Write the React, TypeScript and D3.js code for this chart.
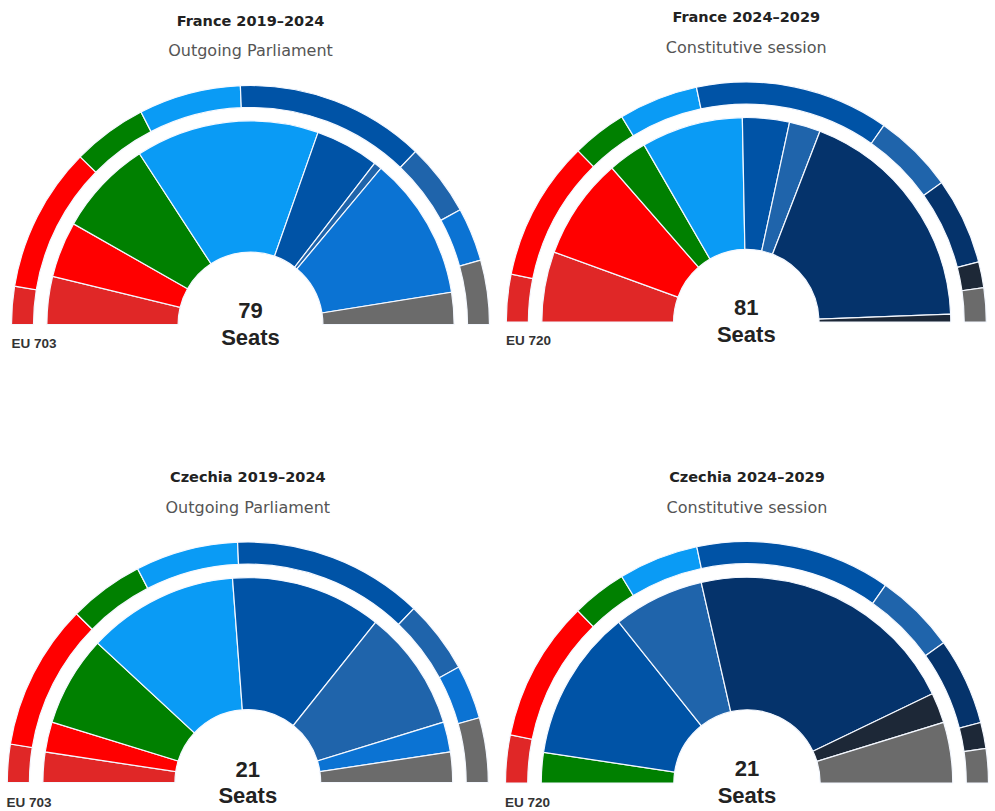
import { useEffect, useRef } from "react";
import * as d3 from "d3";

// political groups, left to right
const groups2019 = ["The Left", "S&D", "Greens/EFA", "Renew", "EPP", "ECR", "ID", "NI"];
const colors2019 = ["#e02727", "#ff0000", "#008000", "#0a9bf5", "#0053a6", "#1f64ab", "#0b73d3", "#6b6b6b"];
const eu2019 = [36, 138, 71, 97, 180, 69, 51, 61];
const france2019 = [6, 7, 12, 23, 8, 1, 18, 4];
const czechia2019 = [1, 1, 3, 5, 5, 4, 1, 1];

const groups2024 = ["The Left", "S&D", "Greens/EFA", "Renew", "EPP", "ECR", "PfE", "ESN", "NI"];
const colors2024 = ["#e02727", "#ff0000", "#008000", "#0a9bf5", "#0053a6", "#1f64ab", "#05336b", "#1d2837", "#6b6b6b"];
const eu2024 = [46, 136, 53, 77, 188, 78, 84, 25, 33];
const france2024 = [9, 13, 5, 13, 6, 4, 30, 1, 0];
const czechia2024 = [0, 0, 1, 0, 5, 3, 9, 1, 2];

const panels = [
  { title: "France 2019–2024", subtitle: "Outgoing Parliament", groups: groups2019, colors: colors2019, eu: eu2019, seats: france2019,
    cx: 250.5, cy: 324.5, r: 239, titleY: 25.5, subY: 55.5, numY: 318, seatsY: 345, euX: 11.5, euY: 348 },
  { title: "France 2024–2029", subtitle: "Constitutive session", groups: groups2024, colors: colors2024, eu: eu2024, seats: france2024,
    cx: 746.3, cy: 322, r: 240, titleY: 21.7, subY: 53.3, numY: 315, seatsY: 341.5, euX: 506, euY: 345 },
  { title: "Czechia 2019–2024", subtitle: "Outgoing Parliament", groups: groups2019, colors: colors2019, eu: eu2019, seats: czechia2019,
    cx: 247.8, cy: 782.5, r: 240.5, titleY: 481.5, subY: 513, numY: 777, seatsY: 803, euX: 6.5, euY: 806.7 },
  { title: "Czechia 2024–2029", subtitle: "Constitutive session", groups: groups2024, colors: colors2024, eu: eu2024, seats: czechia2024,
    cx: 747, cy: 783, r: 241.5, titleY: 481.5, subY: 513, numY: 775.5, seatsY: 803, euX: 505, euY: 806.7 },
];

export default function App() {
  const svgRef = useRef<SVGSVGElement | null>(null);

  useEffect(() => {
    if (!svgRef.current) return;
    const width = 995;
    const height = 811;

    const svg = d3.select(svgRef.current);
    svg.selectAll("*").remove();
    svg.attr("width", width).attr("height", height);

    const pie = d3.pie<number>()
      .sort(null)
      .value(d => d)
      .startAngle(-Math.PI / 2)
      .endAngle(Math.PI / 2);

    panels.forEach(p => {
      const g = svg.append("g").attr("transform", `translate(${p.cx},${p.cy})`);

      const outerArc = d3.arc<d3.PieArcDatum<number>>().innerRadius(p.r * 0.908).outerRadius(p.r);
      const innerArc = d3.arc<d3.PieArcDatum<number>>().innerRadius(p.r * 0.303).outerRadius(p.r * 0.852);

      g.append("g").selectAll("path")
        .data(pie(p.eu).filter(d => d.value > 0))
        .join("path")
        .attr("d", outerArc)
        .attr("fill", d => p.colors[d.index])
        .attr("stroke", "#f4f8ff")
        .attr("stroke-width", 1.2)
        .append("title").text(d => `${p.groups[d.index]}: ${d.value}`);

      g.append("g").selectAll("path")
        .data(pie(p.seats).filter(d => d.value > 0))
        .join("path")
        .attr("d", innerArc)
        .attr("fill", d => p.colors[d.index])
        .attr("stroke", "#f4f8ff")
        .attr("stroke-width", 1.2)
        .append("title").text(d => `${p.groups[d.index]}: ${d.value}`);

      svg.append("text")
        .attr("x", p.cx)
        .attr("y", p.titleY)
        .attr("text-anchor", "middle")
        .attr("font-family", "DejaVu Sans, sans-serif")
        .attr("font-size", 14.5)
        .attr("font-weight", 700)
        .attr("fill", "#222")
        .text(p.title);

      svg.append("text")
        .attr("x", p.cx)
        .attr("y", p.subY)
        .attr("text-anchor", "middle")
        .attr("font-family", "DejaVu Sans, sans-serif")
        .attr("font-size", 16)
        .attr("fill", "#555")
        .text(p.subtitle);

      const total = d3.sum(p.seats);
      svg.append("text")
        .attr("x", p.cx)
        .attr("y", p.numY)
        .attr("text-anchor", "middle")
        .attr("font-family", "Liberation Sans, Arial, sans-serif")
        .attr("font-size", 22)
        .attr("font-weight", 700)
        .attr("fill", "#222")
        .text(total);

      svg.append("text")
        .attr("x", p.cx)
        .attr("y", p.seatsY)
        .attr("text-anchor", "middle")
        .attr("font-family", "Liberation Sans, Arial, sans-serif")
        .attr("font-size", 22)
        .attr("font-weight", 700)
        .attr("fill", "#222")
        .text("Seats");

      svg.append("text")
        .attr("x", p.euX)
        .attr("y", p.euY)
        .attr("font-family", "Liberation Sans, Arial, sans-serif")
        .attr("font-size", 13.5)
        .attr("font-weight", 700)
        .attr("fill", "#333")
        .text(`EU ${d3.sum(p.eu)}`);
    });
  }, []);

  return <svg ref={svgRef} style={{ position: "absolute", left: 0, top: 0, background: "#fff" }} />;
}
